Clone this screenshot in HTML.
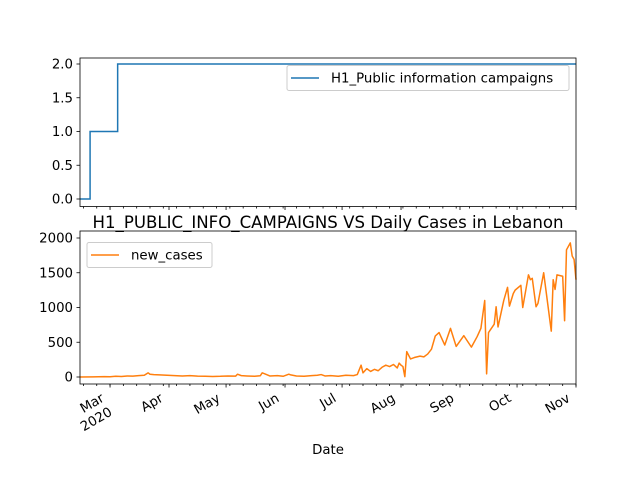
<!DOCTYPE html>
<html><head><meta charset="utf-8"><style>
body{margin:0;background:#fff}
svg{display:block;font-family:"DejaVu Sans","Liberation Sans",sans-serif}
</style></head><body>
<svg id="fig" width="640" height="480" xmlns="http://www.w3.org/2000/svg"></svg>
<script>
// Day offsets from 2020-03-01
const casesDays = [-16,-9,-6,-3,0,3,6,9,12,15,18,20,21,23,26,30,34,38,42,46,50,54,58,62,66,67,69,72,76,79,80,81,84,88,91,94,95,98,102,106,109,111,113,116,120,124,128,130,132,133,135,137,139,141,143,145,147,149,151,152,153,154,155,156,158,160,163,165,167,169,171,173,176,179,182,186,190,193,195,197,198,199,202,203,204,207,209,210,212,213,216,217,220,221,222,224,225,228,232,233,234,235,238,239,240,242,243,244,245];
const casesVals = [0,1,3,5,4,10,8,15,12,20,25,60,40,35,30,25,20,15,20,12,10,8,10,15,12,40,20,15,10,18,60,50,15,20,10,40,30,15,10,20,25,35,15,20,10,25,20,35,170,60,120,80,110,90,140,170,150,180,130,200,170,150,5,365,260,280,300,290,330,400,590,640,460,700,440,595,430,580,700,1100,45,640,760,1010,720,1100,1290,1020,1200,1250,1320,1000,1470,1400,1420,1010,1060,1500,660,1400,1260,1470,1450,810,1830,1930,1740,1690,1400];
const policyDays = [-16,-10.5,-10.5,4,4,245];
const policyVals = [0,0,1,1,2,2];
const monthDays = [0,31,61,92,122,153,184,214,245];
const monthLabels = ["Mar","Apr","May","Jun","Jul","Aug","Sep","Oct","Nov"];
const topTicks = [0,0.5,1,1.5,2];
const botTicks = [0,500,1000,1500,2000];

const NS="http://www.w3.org/2000/svg";
const svg=document.getElementById('fig');
function el(t,a,p){const e=document.createElementNS(NS,t);for(const k in a)e.setAttribute(k,a[k]);(p||svg).appendChild(e);return e;}
const X0=80,X1=576,D0=-15.8,D1=245;
const x=d=>X0+(d-D0)/(D1-D0)*(X1-X0);
const yTop=v=>199-v*67.5;
const yBot=v=>377-v*0.0695;

function axes(top,bot,name){
  const g=el('g',{});
  
  
  for(let d=-14; d<=245; d+=7){
    el('line',{x1:x(d),x2:x(d),y1:bot,y2:bot+2,stroke:'#000','stroke-width':0.8},g);
  }
  monthDays.forEach(d=>{el('line',{x1:x(d),x2:x(d),y1:bot,y2:bot+3.5,stroke:'#000','stroke-width':0.8},g);});
  return g;
}
const gt=axes(58,206.5,'top-axes');
topTicks.forEach(v=>{
  el('line',{x1:76.5,x2:80,y1:yTop(v),y2:yTop(v),stroke:'#000','stroke-width':0.8},gt);
  const t=el('text',{x:73,y:yTop(v)+4.5,'text-anchor':'end','font-size':'13.3px'},gt);t.textContent=v.toFixed(1);
  
  
});
let pts=policyDays.map((d,i)=>x(d)+','+yTop(policyVals[i])).join(' ');
const pl=el('polyline',{points:pts,fill:'none',stroke:'#1f77b4','stroke-width':1.5});


el('rect',{x:80,y:58,width:496,height:148.5,fill:'none',stroke:'#000','stroke-width':0.8});

const lt=el('g',{});


el('rect',{x:287,y:65.5,width:282,height:25,rx:2,fill:'#fff',stroke:'#ccc','stroke-width':1},lt);
el('line',{x1:291,x2:319,y1:78,y2:78,stroke:'#1f77b4','stroke-width':1.5},lt);
const tt=el('text',{x:331,y:82.5,'font-size':'13.3px'},lt);tt.textContent='H1_Public information campaigns';

const ti=el('text',{x:328,y:228,'text-anchor':'middle','font-size':'16.6px'});
ti.textContent='H1_PUBLIC_INFO_CAMPAIGNS VS Daily Cases in Lebanon';



const gb=axes(231,384,'bottom-axes');
botTicks.forEach(v=>{
  el('line',{x1:76.5,x2:80,y1:yBot(v),y2:yBot(v),stroke:'#000','stroke-width':0.8},gb);
  const t=el('text',{x:73,y:yBot(v)+4.5,'text-anchor':'end','font-size':'13.3px'},gb);t.textContent=v;
  
  
});
monthDays.forEach((d,i)=>{
  const t=el('text',{'font-size':'13.3px','text-anchor':'end',transform:`translate(${x(d)-10},${392}) rotate(-30)`},gb);
  
  
  const s=el('tspan',{x:0,y:10},t);s.textContent=monthLabels[i];
  if(i===0){const s2=el('tspan',{x:0,y:26},t);s2.textContent='2020';}
});
pts=casesDays.map((d,i)=>x(d)+','+yBot(casesVals[i])).join(' ');
const cl=el('polyline',{points:pts,fill:'none',stroke:'#ff7f0e','stroke-width':1.5,'stroke-linejoin':'round'});


el('rect',{x:80,y:231,width:496,height:153,fill:'none',stroke:'#000','stroke-width':0.8});

const lb=el('g',{});


el('rect',{x:87,y:242.5,width:125,height:25,rx:2,fill:'#fff',stroke:'#ccc','stroke-width':1},lb);
el('line',{x1:91,x2:119,y1:255,y2:255,stroke:'#ff7f0e','stroke-width':1.5},lb);
const bt=el('text',{x:131,y:259.5,'font-size':'13.3px'},lb);bt.textContent='new_cases';

const xl=el('text',{x:328,y:454,'text-anchor':'middle','font-size':'13.3px'});
xl.textContent='Date';


</script>
</body></html>
